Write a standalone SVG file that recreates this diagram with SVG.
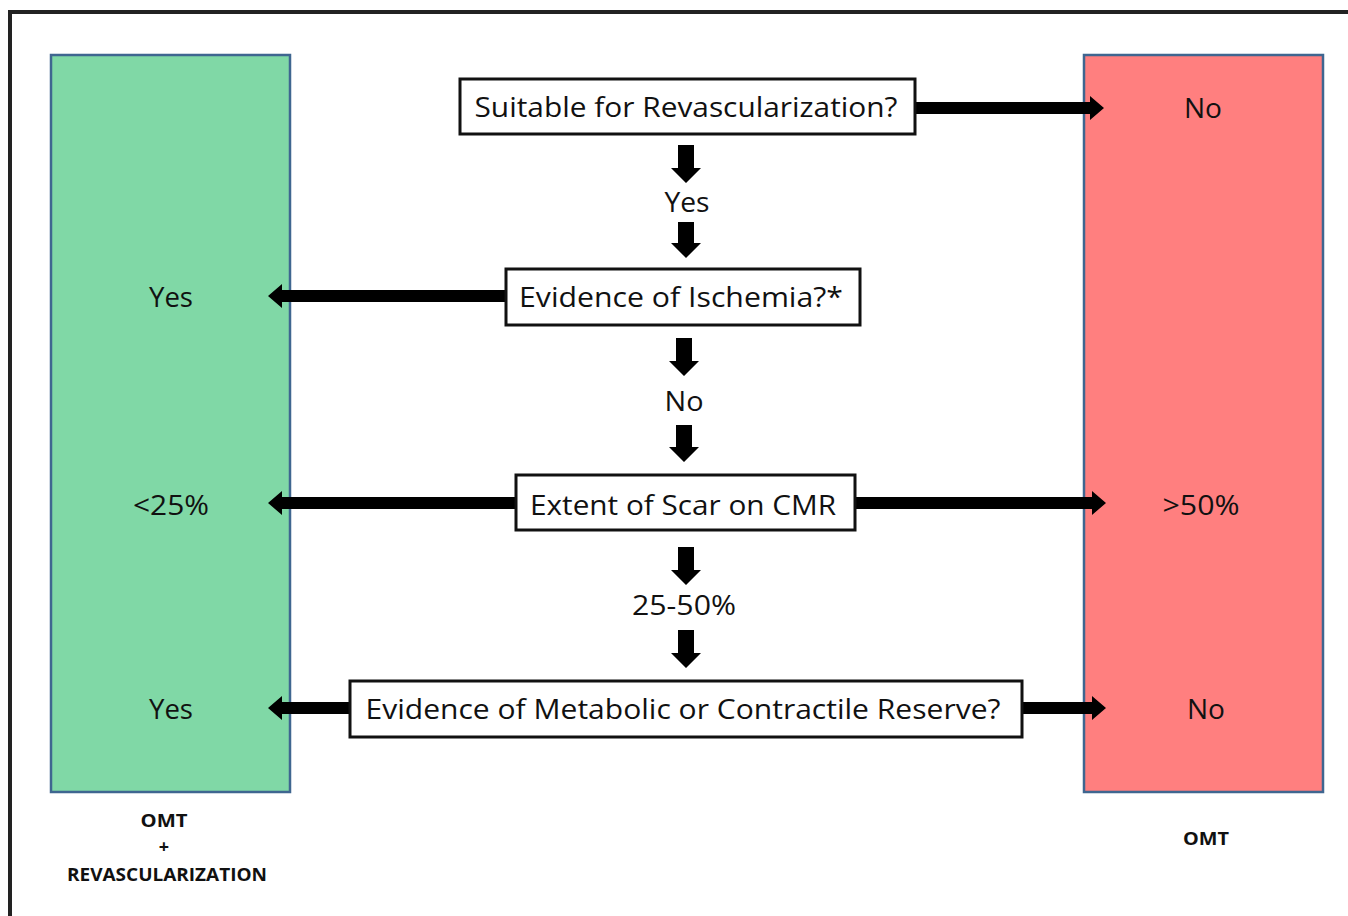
<svg xmlns="http://www.w3.org/2000/svg" width="1348" height="916" viewBox="0 0 1348 916">
<style>
.t{font-family:"Open Sans","Liberation Sans",sans-serif;font-size:27px;fill:#111;text-anchor:middle}
.b{font-family:"Open Sans","Liberation Sans",sans-serif;font-size:18px;font-weight:bold;fill:#111;text-anchor:middle}
.box{fill:#fff;stroke:#111;stroke-width:3}
.ar{fill:#000}
</style>
<rect width="1348" height="916" fill="#fff"/>
<path d="M10,918 V12 H1350" fill="none" stroke="#222" stroke-width="4"/>
<g id="omt-revasc">
<rect x="51" y="55" width="239" height="737" fill="#80D8A6" stroke="#3F6690" stroke-width="2.5"/>
<text class="t" x="171" y="307" textLength="44" lengthAdjust="spacingAndGlyphs">Yes</text>
<text class="t" x="171" y="515" textLength="76" lengthAdjust="spacingAndGlyphs">&lt;25%</text>
<text class="t" x="171" y="719" textLength="44" lengthAdjust="spacingAndGlyphs">Yes</text>
<text class="b" x="164" y="827" textLength="47" lengthAdjust="spacingAndGlyphs">OMT</text>
<text class="b" x="164" y="853">+</text>
<text class="b" x="167" y="881" textLength="200" lengthAdjust="spacingAndGlyphs">REVASCULARIZATION</text>
</g>
<g id="omt">
<rect x="1084" y="55" width="239" height="737" fill="#FF7F7F" stroke="#3F6690" stroke-width="2.5"/>
<text class="t" x="1203" y="118" textLength="38" lengthAdjust="spacingAndGlyphs">No</text>
<text class="t" x="1201" y="515" textLength="77" lengthAdjust="spacingAndGlyphs">&gt;50%</text>
<text class="t" x="1206" y="719" textLength="38" lengthAdjust="spacingAndGlyphs">No</text>
<text class="b" x="1206" y="845" textLength="46" lengthAdjust="spacingAndGlyphs">OMT</text>
</g>
<g id="connectors">
<polygon class="ar" points="915,102 1090,102 1090,96 1104,108 1090,120 1090,114 915,114"/>
<polygon class="ar" points="678,145 694,145 694,168 701,168 686,183 671,168 678,168"/>
<text class="t" x="687" y="212" textLength="45" lengthAdjust="spacingAndGlyphs">Yes</text>
<polygon class="ar" points="678,222 694,222 694,243 701,243 686,258 671,243 678,243"/>
<polygon class="ar" points="505,290 282,290 282,284 268,296 282,308 282,302 505,302"/>
<polygon class="ar" points="676,338 692,338 692,361 699,361 684,376 669,361 676,361"/>
<text class="t" x="684" y="411" textLength="39" lengthAdjust="spacingAndGlyphs">No</text>
<polygon class="ar" points="676,425 692,425 692,447 699,447 684,462 669,447 676,447"/>
<polygon class="ar" points="515,497 282,497 282,491 268,503 282,515 282,509 515,509"/>
<polygon class="ar" points="855,497 1092,497 1092,491 1106,503 1092,515 1092,509 855,509"/>
<polygon class="ar" points="678,547 694,547 694,570 701,570 686,585 671,570 678,570"/>
<text class="t" x="684" y="615" textLength="104" lengthAdjust="spacingAndGlyphs">25-50%</text>
<polygon class="ar" points="678,630 694,630 694,653 701,653 686,668 671,653 678,653"/>
<polygon class="ar" points="349,702 282,702 282,696 268,708 282,720 282,714 349,714"/>
<polygon class="ar" points="1022,702 1092,702 1092,696 1106,708 1092,720 1092,714 1022,714"/>
</g>
<g id="q-suitable">
<rect class="box" x="460" y="79" width="455" height="55"/>
<text class="t" x="686" y="117" textLength="423" lengthAdjust="spacingAndGlyphs">Suitable for Revascularization?</text>
</g>
<g id="q-ischemia">
<rect class="box" x="506" y="269" width="354" height="56"/>
<text class="t" x="681" y="307" textLength="324" lengthAdjust="spacingAndGlyphs">Evidence of Ischemia?*</text>
</g>
<g id="q-scar">
<rect class="box" x="516" y="475" width="339" height="55"/>
<text class="t" x="683" y="515" textLength="306" lengthAdjust="spacingAndGlyphs">Extent of Scar on CMR</text>
</g>
<g id="q-reserve">
<rect class="box" x="350" y="681" width="672" height="56"/>
<text class="t" x="683" y="719" textLength="635" lengthAdjust="spacingAndGlyphs">Evidence of Metabolic or Contractile Reserve?</text>
</g>
</svg>
